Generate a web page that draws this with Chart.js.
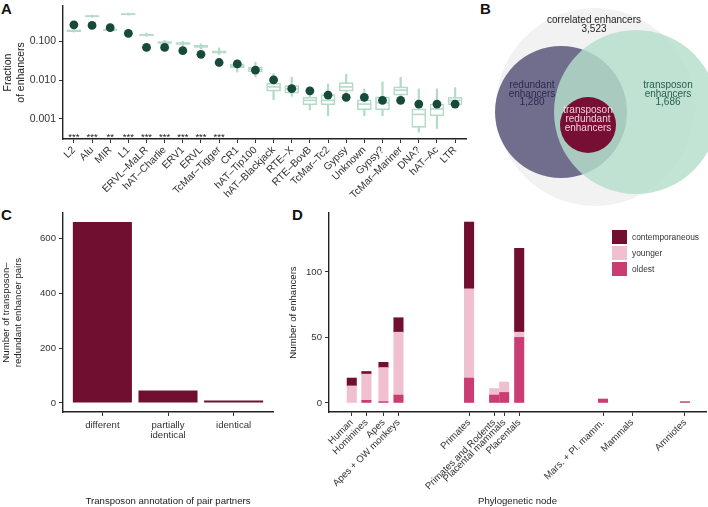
<!DOCTYPE html>
<html>
<head>
<meta charset="utf-8">
<script src="https://cdn.jsdelivr.net/npm/chart.js@4.4.1/dist/chart.umd.min.js"></script>
<style>
  body { margin: 0; background: #fff; width: 708px; height: 507px; position: relative; overflow: hidden;
         font-family: "Liberation Sans", Arial, sans-serif; }
  canvas { position: absolute; }
  .tag { position: absolute; font-weight: bold; font-size: 15px; color: #111; line-height: 15px; }
  #legendD { position: absolute; left: 612px; top: 229px; font-size: 8.4px; color: #333; }
  #legendD div { display: flex; align-items: center; height: 16px; }
  #legendD .sw { width: 15px; height: 14px; margin-right: 5px; }
</style>
</head>
<body>
<div class="tag" style="left:1px;top:1px">A</div>
<div class="tag" style="left:480px;top:1px">B</div>
<div class="tag" style="left:1px;top:207px">C</div>
<div class="tag" style="left:292px;top:207px">D</div>

<canvas id="chartA" width="470" height="212" style="left:0;top:0"></canvas>
<canvas id="chartB" width="238" height="215" style="left:470px;top:0"></canvas>
<canvas id="chartC" width="285" height="302" style="left:0;top:205px"></canvas>
<canvas id="chartD" width="423" height="302" style="left:285px;top:205px"></canvas>
<div id="legendD"></div>

<script>
// ---- panel A: transposon families, observed fraction vs. shuffled background
const teNames = ['L2', 'Alu', 'MIR', 'L1', 'ERVL–MaLR', 'hAT–Charlie', 'ERV1', 'ERVL', 'TcMar–Tigger',
  'CR1', 'hAT–Tip100', 'hAT–Blackjack', 'RTE–X', 'RTE–BovB', 'TcMar–Tc2', 'Gypsy', 'Unknown', 'Gypsy?',
  'TcMar–Mariner', 'DNA?', 'hAT–Ac', 'LTR'];
const observedFrac = [0.27, 0.26, 0.227, 0.163, 0.070, 0.070, 0.058, 0.0466, 0.0286, 0.0262, 0.0182,
  0.0101, 0.0060, 0.0053, 0.0041, 0.0036, 0.0036, 0.0030, 0.0030, 0.0024, 0.0024, 0.0024];
const bgWhiskerLo = [0.175, 0.42, 0.185, 0.48, 0.135, 0.083, 0.078, 0.064, 0.046, 0.0162, 0.0121,
  0.0031, 0.0038, 0.0017, 0.0012, 0.0038, 0.0012, 0.0012, 0.0031, 0.00045, 0.00056, 0.0020];
const bgQ1 = [0.18, 0.43, 0.19, 0.49, 0.141, 0.089, 0.084, 0.070, 0.050, 0.0208, 0.0162,
  0.0052, 0.0046, 0.0023, 0.0023, 0.0052, 0.0017, 0.0017, 0.0041, 0.0006, 0.0012, 0.0023];
const bgMedian = [0.19, 0.45, 0.199, 0.51, 0.148, 0.094, 0.089, 0.0745, 0.0534, 0.0234, 0.0188,
  0.0067, 0.0059, 0.0030, 0.0030, 0.0067, 0.0024, 0.0026, 0.0055, 0.0013, 0.0018, 0.0030];
const bgQ3 = [0.20, 0.47, 0.21, 0.53, 0.155, 0.099, 0.094, 0.079, 0.057, 0.0264, 0.0217,
  0.0083, 0.0072, 0.0036, 0.0042, 0.0086, 0.0031, 0.0037, 0.0067, 0.0018, 0.0024, 0.0036];
const bgWhiskerHi = [0.205, 0.48, 0.215, 0.54, 0.165, 0.107, 0.101, 0.087, 0.068, 0.0328, 0.0291,
  0.0147, 0.0119, 0.0050, 0.0079, 0.0142, 0.0059, 0.0090, 0.0119, 0.0059, 0.0059, 0.0064];
const significance = ['***', '***', '**', '***', '***', '***', '***', '***', '***',
  '', '', '', '', '', '', '', '', '', '', '', '', ''];

// ---- panel B: venn
const vennSets = ['correlated enhancers', 'redundant enhancers', 'transposon enhancers', 'transposon redundant enhancers'];
const vennCounts = ['3,523', '1,280', '1,686', ''];
const vennX = [125, 91, 166, 118];
const vennY = [107, 112, 112, 125];
const vennR = [99, 66, 82, 28];

// ---- panel C: transposon annotation of pair partners
const pairClasses = ['different', ['partially', 'identical'], 'identical'];
const pairCounts = [660, 45, 9];

// ---- panel D: phylogenetic node of enhancer
const nodeNames = ['Human', 'Hominines', 'Apes', 'Apes + OW monkeys', 'Primates', 'Primates and Rodents',
  'Placental mammals', 'Placentals', 'Mars. + Pl. mamm.', 'Mammals', 'Amniotes'];
const nodeX = [22.7, 37.3, 54.3, 69.3, 139.7, 164.7, 174.7, 189.7, 273.3, 302.3, 355];
const ageOldest = [0, 2, 1, 6, 19, 6, 8, 50, 3, 0, 1];
const ageYounger = [13, 20, 26, 48, 68, 5, 8, 4, 0, 0, 0];
const ageContemporaneous = [6, 2, 4, 11, 51, 0, 0, 64, 0, 0, 0];

const mint = '#b4dac8';
const darkGreen = '#174a3b';
const maroon = '#710f30';
const pink = '#f0bfd0';
const rose = '#ca3d72';

Chart.defaults.font.family = '"Liberation Sans", Arial, sans-serif';
Chart.defaults.color = '#333';
Chart.defaults.animation = false;
Chart.defaults.plugins.legend.display = false;
Chart.defaults.plugins.tooltip.enabled = false;

const axisGrid = { drawOnChartArea: false, tickLength: 4, color: '#333', lineWidth: 1 };
const axisBorder = { color: '#222', width: 1.4 };

// pin the plot area: drop the extra room chart.js keeps for end labels
function noPad(s) {
  s.paddingTop = 0; s.paddingBottom = 0; s.paddingLeft = 0; s.paddingRight = 0;
}

// ---------------- A ----------------
const starsPlugin = {
  id: 'stars',
  afterDatasetsDraw(chart) {
    const { ctx, chartArea, scales } = chart;
    ctx.save();
    ctx.fillStyle = '#222';
    ctx.font = '9.5px "Liberation Sans"';
    ctx.textAlign = 'center';
    ctx.textBaseline = 'alphabetic';
    significance.forEach((s, i) => {
      if (s) ctx.fillText(s, scales.x.getPixelForValue(i + 1), chartArea.bottom + 1);
    });
    ctx.restore();
  }
};

new Chart(document.getElementById('chartA'), {
  type: 'bar',
  data: {
    datasets: [
      {
        type: 'scatter',
        data: observedFrac.map((v, i) => ({ x: i + 1, y: v })),
        pointRadius: 4.4, backgroundColor: darkGreen, borderWidth: 0, order: 1
      },
      {
        type: 'scatter',
        data: bgMedian.map((v, i) => ({ x: i + 1, y: v })),
        pointStyle: 'line', pointRadius: 6.5, borderColor: mint, borderWidth: 1.6, order: 2
      },
      {
        type: 'bar',
        data: bgQ1.map((v, i) => ({ x: i + 1, y: [v, bgQ3[i]] })),
        barThickness: 14, backgroundColor: '#fff', borderColor: mint, borderWidth: 1.6,
        borderSkipped: false, grouped: false, order: 3
      },
      {
        type: 'bar',
        data: bgWhiskerLo.map((v, i) => ({ x: i + 1, y: [v, bgWhiskerHi[i]] })),
        barThickness: 1.6, backgroundColor: mint, borderWidth: 0, grouped: false, order: 4
      }
    ]
  },
  options: {
    responsive: false,
    layout: { autoPadding: false, padding: { top: 6, right: 4, left: 0, bottom: 0 } },
    scales: {
      x: {
        type: 'linear', min: 0.4, max: 22.6, offset: false,
        grid: { ...axisGrid, offset: false }, border: axisBorder,
        afterBuildTicks: s => { s.ticks = teNames.map((_, i) => ({ value: i + 1 })); },
        afterFit: s => { s.height = 212 - 139; noPad(s); },
        ticks: {
          autoSkip: false, minRotation: 45, maxRotation: 45, padding: 1,
          font: { size: 10.3 }, color: '#333',
          callback: v => teNames[v - 1]
        }
      },
      y: {
        type: 'logarithmic', min: 0.000341, max: 0.828,
        grid: axisGrid, border: axisBorder,
        afterBuildTicks: s => { s.ticks = [0.001, 0.01, 0.1].map(v => ({ value: v })); },
        afterFit: s => { s.width = 63; noPad(s); },
        ticks: { font: { size: 10.5 }, color: '#333', padding: 3, callback: v => v.toFixed(3) },
        title: { display: true, text: ['Fraction', 'of enhancers'], font: { size: 10.5 }, color: '#222',
                 padding: { top: 2, bottom: 0 } }
      }
    }
  },
  plugins: [starsPlugin]
});

// ---------------- B ----------------
const vennLabels = [
  { lines: [vennSets[0], vennCounts[0]], x: 124, y: 20, color: '#222' },
  { lines: ['redundant', 'enhancers', vennCounts[1]], x: 62, y: 85, color: '#2b2952' },
  { lines: ['transposon', 'enhancers', vennCounts[2]], x: 198, y: 85, color: '#2a5e4b' },
  { lines: ['transposon', 'redundant', 'enhancers'], x: 118, y: 110.5, color: '#f7cedd' }
];
const vennTextPlugin = {
  id: 'vennText',
  afterDatasetsDraw(chart) {
    const { ctx, scales } = chart;
    ctx.save();
    ctx.font = '10px "Liberation Sans"';
    ctx.textAlign = 'center';
    ctx.textBaseline = 'middle';
    vennLabels.forEach(l => {
      ctx.fillStyle = l.color;
      l.lines.forEach((t, k) => {
        ctx.fillText(t, scales.x.getPixelForValue(l.x), scales.y.getPixelForValue(l.y + k * 8.8));
      });
    });
    ctx.restore();
  }
};

new Chart(document.getElementById('chartB'), {
  type: 'bubble',
  data: {
    datasets: [{
      data: vennX.map((x, i) => ({ x, y: vennY[i], r: vennR[i] })),
      backgroundColor: ['#f2f2f2', '#716e8d', 'rgba(180,222,202,0.82)', '#760f33'],
      borderWidth: 0, hoverRadius: 0
    }]
  },
  options: {
    responsive: false,
    layout: { autoPadding: false, padding: 0 },
    scales: {
      x: { display: false, min: 0, max: 238 },
      y: { display: false, min: 0, max: 215, reverse: true }
    }
  },
  plugins: [vennTextPlugin]
});

// ---------------- C ----------------
new Chart(document.getElementById('chartC'), {
  type: 'bar',
  data: {
    datasets: [{
      data: pairCounts.map((v, i) => ({ x: i + 1, y: v })),
      backgroundColor: maroon, borderWidth: 0,
      categoryPercentage: 1, barPercentage: 0.9
    }]
  },
  options: {
    responsive: false,
    layout: { autoPadding: false, padding: { top: 8, right: 12, left: 0, bottom: 0 } },
    scales: {
      x: {
        type: 'linear', min: 0.4, max: 3.6, offset: false,
        grid: { ...axisGrid, offset: false }, border: axisBorder,
        afterBuildTicks: s => { s.ticks = pairClasses.map((_, i) => ({ value: i + 1 })); },
        afterFit: s => { s.height = 302 - 207; noPad(s); },
        ticks: { maxRotation: 0, autoSkip: false, font: { size: 9.6, lineHeight: 1.05 }, color: '#333', padding: 4,
                 callback: v => pairClasses[v - 1] },
        title: { display: true, text: 'Transposon annotation of pair partners', font: { size: 9.6 },
                 color: '#222', padding: { top: 0, bottom: 0 } }
      },
      y: {
        min: -33, max: 693,
        grid: axisGrid, border: axisBorder,
        afterBuildTicks: s => { s.ticks = [0, 200, 400, 600].map(v => ({ value: v })); },
        afterFit: s => { s.width = 63; noPad(s); },
        ticks: { font: { size: 9.6 }, color: '#333', padding: 3 },
        title: { display: true, text: ['Number of transposon–', 'redundant enhancer pairs'],
                 font: { size: 9.6, lineHeight: 1.25 }, color: '#222', padding: { top: 0, bottom: 0 } }
      }
    }
  }
});

// ---------------- D ----------------
const ageSeries = [
  { label: 'oldest', data: ageOldest, color: rose },
  { label: 'younger', data: ageYounger, color: pink },
  { label: 'contemporaneous', data: ageContemporaneous, color: maroon }
];

new Chart(document.getElementById('chartD'), {
  type: 'bar',
  data: {
    datasets: ageSeries.map(s => ({
      label: s.label,
      // empty segments are left out so nothing is drawn for them
      data: s.data.map((v, i) => ({ x: nodeX[i], y: v })).filter(p => p.y > 0),
      backgroundColor: s.color, borderWidth: 0, barThickness: 9.4
    }))
  },
  options: {
    responsive: false,
    layout: { autoPadding: false, padding: { top: 8, right: 2, left: 0, bottom: 0 } },
    scales: {
      x: {
        type: 'linear', min: 0, max: 376, stacked: true, offset: false,
        grid: { ...axisGrid, offset: false }, border: axisBorder,
        afterBuildTicks: s => { s.ticks = nodeX.map(v => ({ value: v })); },
        afterFit: s => { s.height = 302 - 207; noPad(s); },
        ticks: { autoSkip: false, minRotation: 45, maxRotation: 45, font: { size: 9.6 }, color: '#333', padding: 1,
                 callback: v => nodeNames[nodeX.indexOf(v)] },
        title: { display: true, text: 'Phylogenetic node', font: { size: 9.6 }, color: '#222',
                 padding: { top: 0, bottom: 0 } }
      },
      y: {
        min: -6.9, max: 144.9, stacked: true,
        grid: axisGrid, border: axisBorder,
        afterBuildTicks: s => { s.ticks = [0, 50, 100].map(v => ({ value: v })); },
        afterFit: s => { s.width = 44; noPad(s); },
        ticks: { font: { size: 9.6 }, color: '#333', padding: 3 },
        title: { display: true, text: 'Number of enhancers', font: { size: 9.6 }, color: '#222',
                 padding: { top: 3, bottom: 0 } }
      }
    }
  }
});

// legend for D, top-down as in the figure
const legendEl = document.getElementById('legendD');
ageSeries.slice().reverse().forEach(s => {
  const row = document.createElement('div');
  row.innerHTML = '<span class="sw" style="background:' + s.color + '"></span>' + s.label;
  legendEl.appendChild(row);
});
</script>
</body>
</html>
